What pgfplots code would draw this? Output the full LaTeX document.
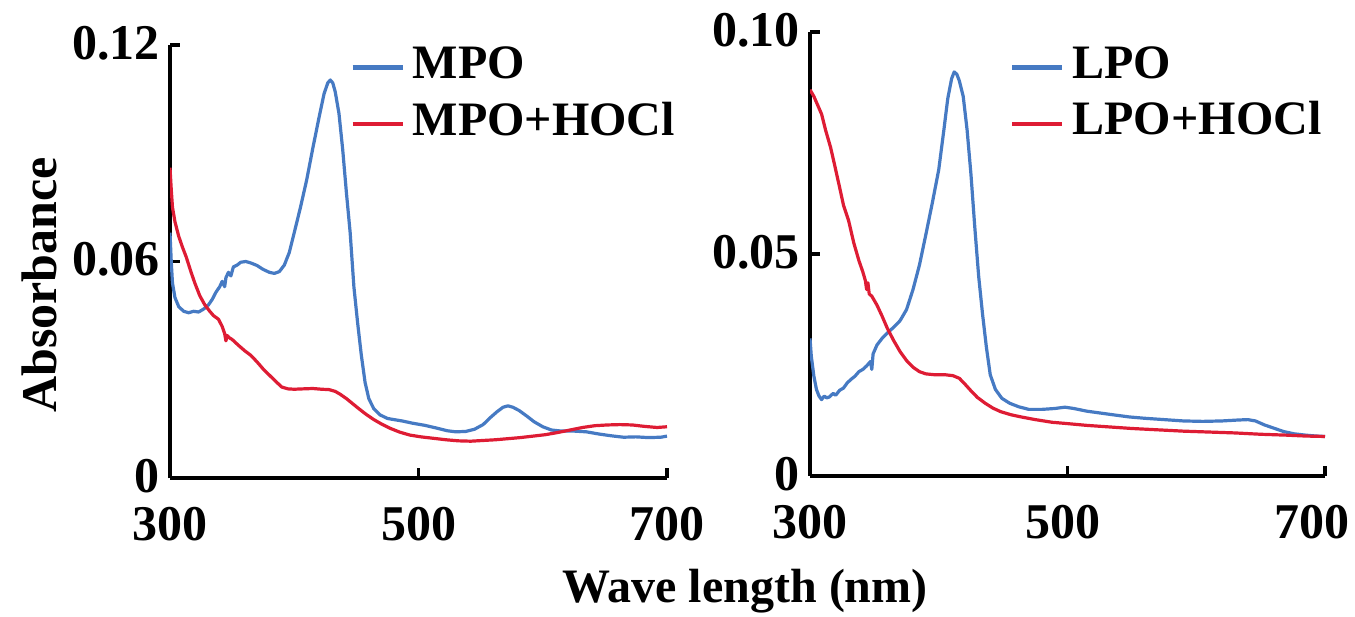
\documentclass[border=0pt]{standalone}
\usepackage{pgfplots}
\pgfplotsset{compat=1.18}
\usepackage{fontspec}
\setmainfont{Liberation Serif}

\definecolor{specblue}{RGB}{70,122,195}
\definecolor{specred}{RGB}{222,28,52}

\pgfplotsset{
  spectrum/.style={
    scale only axis,
    axis lines=left,
    axis line style={-, line width=1.6pt, black},
    tick align=inside,
    major tick length=5pt,
    tick style={line width=1.6pt, black},
    xmin=300, xmax=700,
    xtick={300,500,700},
    ymin=0,
    /pgf/number format/assume math mode=true,
    ticklabel style={font=\fontsize{25}{30}\selectfont\bfseries},
    xticklabel style={yshift=-11pt},
    yticklabel style={inner sep=0pt, xshift=-5pt, yshift=1pt},
    label style={font=\fontsize{25}{30}\selectfont\bfseries},
    legend cell align=left,
    legend style={draw=none, fill=none, anchor=north west,
      font=\fontsize{24}{28}\selectfont\bfseries,
      inner sep=0pt, row sep=11.25pt, column sep=4pt,
      nodes={inner sep=0pt, text height=17pt, text depth=0pt}},
    legend image code/.code={\draw[#1, line width=2.2pt] (0pt,-3pt) -- (25pt,-3pt);},
    every axis plot/.append style={line width=1.6pt, line join=round, no markers},
  }
}

\begin{document}
\begin{tikzpicture}
\useasboundingbox (0,0) rectangle (677.5pt,308pt);

% left panel: MPO
\begin{axis}[spectrum,
  at={(85pt,69pt)}, anchor=south west,
  width=248.5pt, height=216.5pt,
  xticklabels={300,500,700},
  ymax=0.12, ytick={0,0.06,0.12}, yticklabels={0,0.06,0.12},
  ylabel={Absorbance},
  ylabel style={at={(axis description cs:-0.262,0.446)}, anchor=center},
  xlabel={Wave length (nm)},
  xlabel style={at={(axis description cs:1.157,-0.262)}, anchor=center, font=\fontsize{24}{28}\selectfont\bfseries},
  legend style={at={(axis description cs:0.362,1.002)}},
]
\addplot[specblue] coordinates {
(300,0.068) (301,0.060) (302,0.054) (304,0.050) (307,0.0475) (311,0.0462)
(315,0.0458) (319,0.0462) (323,0.0460) (327,0.0468) (331,0.0480) (334,0.0495)
(337,0.0515) (340,0.0530) (342,0.0545) (344,0.0530) (345,0.0555) (347,0.0570)
(349,0.0560) (351,0.0585) (354,0.0590) (357,0.0598) (361,0.0600) (365,0.0596)
(370,0.0589) (375,0.0578) (380,0.0570) (384,0.0567) (388,0.0572) (392,0.0590)
(396,0.0625) (400,0.0680) (405,0.0750) (410,0.0826) (415,0.0915) (420,0.1000)
(424,0.1065) (427,0.1095) (429,0.1103) (431,0.1095) (433,0.1070) (436,0.1010)
(439,0.0910) (442,0.0790) (445,0.0680) (448,0.0530) (451,0.0430) (454,0.0340)
(457,0.0265) (460,0.0220) (464,0.0192) (469,0.0175) (475,0.0165) (480,0.0162)
(487,0.0158) (495,0.0152) (505,0.0146) (515,0.0138) (523,0.0131) (530,0.0128)
(538,0.0129) (545,0.0135) (552,0.0148) (558,0.0168) (563,0.0183) (568,0.0196)
(572,0.0200) (576,0.0196) (581,0.0187) (587,0.0172) (593,0.0156) (600,0.0142)
(607,0.0133) (615,0.0130) (625,0.0130) (635,0.0128) (645,0.0122) (655,0.0117)
(665,0.0113) (675,0.0114) (685,0.0112) (695,0.0113) (700,0.0116)
};
\addlegendentry{MPO}
\addplot[specred] coordinates {
(300,0.086) (301,0.080) (302,0.075) (304,0.0710) (307,0.0670) (310,0.0640)
(313,0.0613) (317,0.0570) (320,0.0540) (324,0.0505) (328,0.0480) (332,0.0462)
(335,0.0450) (339,0.0440) (342,0.0420) (344,0.0400) (345,0.0380) (346,0.0395)
(348,0.0388) (350,0.0384) (355,0.0368) (360,0.0353) (365,0.0340) (370,0.0322)
(375,0.0302) (380,0.0285) (385,0.0268) (390,0.0252) (395,0.0247) (400,0.0246)
(407,0.0247) (415,0.0248) (422,0.0246) (428,0.0245) (433,0.0240) (437,0.0232)
(442,0.0220) (447,0.0206) (452,0.0192) (458,0.0176) (464,0.0162) (470,0.0150)
(477,0.0138) (485,0.0127) (493,0.0119) (502,0.0114) (512,0.0110) (522,0.0106)
(532,0.0103) (542,0.0102) (552,0.0104) (562,0.0106) (572,0.0109) (582,0.0112)
(592,0.0116) (602,0.0120) (612,0.0126) (622,0.0133) (632,0.0140) (642,0.0145)
(652,0.0147) (662,0.0148) (672,0.0147) (682,0.0143) (692,0.0140) (700,0.0142)
};
\addlegendentry{MPO+HOCl}
\end{axis}

% right panel: LPO
\begin{axis}[spectrum,
  at={(405pt,70pt)}, anchor=south west,
  width=257.5pt, height=222pt,
  xticklabels={300,{500\kern5pt},{700\kern13pt}},
  ymax=0.10, ytick={0,0.05,0.10}, yticklabels={0,0.05,0.10},
  legend style={at={(axis description cs:0.388,0.973)}},
]
\addplot[specblue] coordinates {
(300,0.031) (301,0.027) (303,0.0225) (305,0.0195) (307,0.0180) (309,0.0172)
(311,0.0180) (313,0.0176) (315,0.0178) (318,0.0186) (320,0.0182) (323,0.0193)
(326,0.0198) (329,0.0210) (332,0.0218) (335,0.0225) (338,0.0235) (341,0.0240)
(344,0.0248) (347,0.0258) (348,0.0240) (349,0.0275) (352,0.0295) (356,0.0310)
(360,0.0322) (365,0.0335) (370,0.0350) (375,0.0375) (380,0.0420) (385,0.0475)
(390,0.0544) (395,0.0615) (400,0.0690) (404,0.0780) (407,0.0850) (410,0.0895)
(412,0.0910) (414,0.0905) (416,0.0890) (419,0.0855) (422,0.0780) (425,0.0680)
(428,0.0560) (431,0.0450) (434,0.0365) (437,0.0290) (440,0.0228) (444,0.0195)
(449,0.0175) (455,0.0164) (462,0.0156) (470,0.0150) (480,0.0150) (490,0.0152)
(498,0.0155) (505,0.0152) (515,0.0146) (525,0.0142) (535,0.0138) (548,0.0133)
(560,0.0130) (575,0.0127) (590,0.0124) (605,0.0123) (620,0.0124) (632,0.0126)
(640,0.0127) (646,0.0124) (653,0.0115) (660,0.0108) (668,0.0100) (676,0.0095)
(685,0.0092) (693,0.0090) (700,0.0089)
};
\addlegendentry{LPO}
\addplot[specred] coordinates {
(300,0.087) (303,0.0855) (306,0.0835) (309,0.0815) (312,0.0780) (316,0.0740)
(319,0.0702) (323,0.0650) (326,0.0610) (330,0.0575) (334,0.0525) (338,0.0485)
(341,0.0460) (343,0.0440) (344,0.0420) (345,0.0435) (346,0.0410) (348,0.0405)
(352,0.0385) (356,0.0360) (360,0.0333) (365,0.0305) (370,0.0280) (375,0.0260)
(380,0.0245) (385,0.0235) (390,0.0230) (397,0.0228) (405,0.0228) (411,0.0226)
(416,0.0220) (420,0.0208) (425,0.0192) (430,0.0177) (436,0.0164) (442,0.0153)
(448,0.0145) (456,0.0138) (464,0.0133) (475,0.0127) (488,0.0121) (500,0.0118)
(515,0.0114) (530,0.0111) (550,0.0107) (570,0.0104) (590,0.0101) (610,0.0099)
(630,0.0097) (650,0.0094) (670,0.0092) (685,0.0090) (700,0.0089)
};
\addlegendentry{LPO+HOCl}
\end{axis}
\end{tikzpicture}
\end{document}
